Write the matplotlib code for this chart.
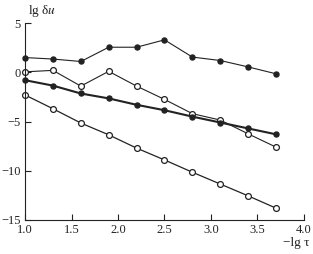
import matplotlib
matplotlib.use("Agg")
import matplotlib.pyplot as plt

# ===============================
# Data
# ===============================

x = [1.0, 1.3, 1.6, 1.9, 2.2, 2.5, 2.8, 3.1, 3.4, 3.7]

top_filled = [1.5, 1.35, 1.1, 2.55, 2.55, 3.3, 1.55, 1.2, 0.55, -0.15]
upper_open = [0.05, 0.2, -1.4, 0.1, -1.4, -2.75, -4.2, -4.85, -6.25, -7.6]
thick_filled = [-0.8, -1.35, -2.15, -2.65, -3.3, -3.85, -4.5, -5.1, -5.7, -6.3]
lower_open = [-2.3, -3.7, -5.15, -6.35, -7.7, -8.9, -10.15, -11.35, -12.55, -13.8]

x_ticks = [1.0, 1.5, 2.0, 2.5, 3.0, 3.5, 4.0]
x_tick_labels = ["1.0", "1.5", "2.0", "2.5", "3.0", "3.5", "4.0"]
y_ticks = [5, 0, -5, -10, -15]
y_tick_labels = ["5", "0", "\u22125", "\u221210", "\u221215"]

# ===============================
# Plot
# ===============================

plt.rcParams["font.family"] = ["Liberation Serif", "DejaVu Serif"]
plt.rcParams["mathtext.fontset"] = "stix"

fig = plt.figure(figsize=(3.13, 2.54), dpi=100)
ax = fig.add_axes([0.08, 0.134, 0.891, 0.775])

ax.plot(x, top_filled, color="#222222", lw=0.8, marker="o", ms=3.6,
        mfc="#222222", mec="#222222", clip_on=False)
ax.plot(x, upper_open, color="#222222", lw=0.8, marker="o", ms=4.2,
        mfc="white", mec="#222222", mew=0.9, clip_on=False)
ax.plot(x, thick_filled, color="#222222", lw=1.5, marker="o", ms=3.6,
        mfc="#222222", mec="#222222", clip_on=False)
ax.plot(x, lower_open, color="#222222", lw=0.9, marker="o", ms=4.2,
        mfc="white", mec="#222222", mew=0.9, clip_on=False)

ax.set_xlim(1.0, 4.0)
ax.set_ylim(-15, 5)
ax.set_xticks(x_ticks)
ax.set_xticklabels(x_tick_labels)
ax.set_yticks(y_ticks)
ax.set_yticklabels(y_tick_labels)
ax.tick_params(direction="in", length=4, width=0.8, labelsize=9, pad=3,
               colors="#222222")

ax.spines["top"].set_visible(False)
ax.spines["right"].set_visible(False)
for s in ("left", "bottom"):
    ax.spines[s].set_linewidth(0.8)
    ax.spines[s].set_color("#222222")

fig.text(0.09, 0.955, "lg \u03b4$u$", fontsize=9.5, ha="left", va="center",
         color="#222222")
fig.text(0.99, 0.045, "\u2212lg \u03c4", fontsize=9.5, ha="right", va="center",
         color="#222222")

fig.savefig("out.png", dpi=100)
